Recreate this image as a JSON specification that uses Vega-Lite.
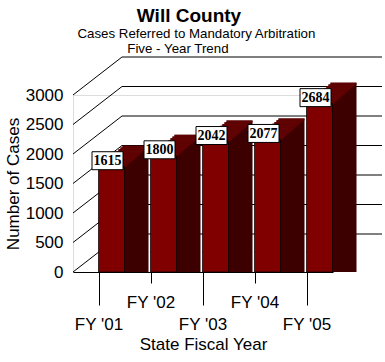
{
  "$schema": "https://vega.github.io/schema/vega-lite/v6.json",
  "width": 260,
  "height": 177,
  "autosize": "none",
  "padding": {"left": 73, "top": 95, "right": 52, "bottom": 90},
  "background": "white",
  "title": {
    "text": "Will County",
    "subtitle": ["\u200b\u00a0\u00a0\u00a0\u00a0Cases Referred to Mandatory Arbitration", "Five - Year Trend\u00a0\u00a0\u00a0\u00a0\u00a0\u00a0\u200b"],
    "font": "Liberation Sans",
    "fontSize": 19,
    "fontWeight": "bold",
    "color": "black",
    "subtitleFont": "Liberation Sans",
    "subtitleFontSize": 13.3,
    "subtitleColor": "black",
    "subtitlePadding": 1,
    "subtitleLineHeight": 15,
    "anchor": "middle",
    "frame": "group",
    "offset": 1,
    "dx": -14
  },
  "datasets": {
    "bars": [
      {"year": "FY '01", "cases": 1615},
      {"year": "FY '02", "cases": 1800},
      {"year": "FY '03", "cases": 2042},
      {"year": "FY '04", "cases": 2077},
      {"year": "FY '05", "cases": 2684}
    ],
    "grid": [
      {"g": 0}, {"g": 500}, {"g": 1000}, {"g": 1500}, {"g": 2000}, {"g": 2500}, {"g": 3000}
    ]
  },
  "data": {"name": "bars"},
  "encoding": {
    "x": {
      "field": "year",
      "type": "nominal",
      "scale": {"paddingInner": 0.5, "paddingOuter": 0.25},
      "axis": {
        "title": "State Fiscal Year",
        "labelAngle": 0,
        "labelOverlap": false,
        "domainColor": "black",
        "domainWidth": 1,
        "tickColor": "black",
        "tickWidth": 1,
        "tickSize": {"condition": {"test": "datum.value === \"FY '02\" || datum.value === \"FY '04\"", "value": 11}, "value": 33},
        "labelPadding": 11,
        "labelFont": "Liberation Sans",
        "labelFontSize": 17,
        "labelColor": "black",
        "titleFont": "Liberation Sans",
        "titleFontSize": 17,
        "titleFontWeight": "normal",
        "titleColor": "black",
        "titlePadding": 4
      }
    },
    "y": {
      "field": "cases",
      "type": "quantitative",
      "stack": null,
      "scale": {"domain": [0, 3000], "nice": false},
      "axis": {
        "title": "Number of Cases",
        "values": [0, 500, 1000, 1500, 2000, 2500, 3000],
        "format": "d",
        "domain": false,
        "ticks": false,
        "grid": false,
        "labelFont": "Liberation Sans",
        "labelFontSize": 17,
        "labelColor": "black",
        "labelPadding": 10,
        "titleFont": "Liberation Sans",
        "titleFontSize": 17,
        "titleFontWeight": "normal",
        "titleColor": "black",
        "titlePadding": 3
      }
    }
  },
  "layer": [
    {
      "data": {"name": "grid"},
      "mark": {"type": "rule", "color": "black", "strokeWidth": 1, "xOffset": 23, "x2Offset": 75, "yOffset": -38, "y2Offset": -38},
      "encoding": {
        "x": {"datum": "FY '01", "type": "nominal"},
        "x2": {"datum": "FY '05"},
        "y": {"field": "g", "type": "quantitative", "title": "Number of Cases"},
        "y2": {"field": "g"}
      }
    },
    {
      "data": {"name": "grid"},
      "mark": {"type": "rule", "color": "black", "strokeWidth": 1, "xOffset": -26, "x2Offset": 23, "yOffset": 0, "y2Offset": -38},
      "encoding": {
        "x": {"datum": "FY '01", "type": "nominal"},
        "x2": {"datum": "FY '01"},
        "y": {"field": "g", "type": "quantitative", "title": "Number of Cases"},
        "y2": {"field": "g"}
      }
    },
    {
      "data": {"values": [{}]},
      "mark": {"type": "rule", "color": "black", "strokeWidth": 1, "xOffset": 23, "yOffset": -38, "y2Offset": -38},
      "encoding": {
        "x": {"datum": "FY '01", "type": "nominal"},
        "y": {"datum": 0, "type": "quantitative"},
        "y2": {"datum": 3000}
      }
    },
    {
      "data": {"values": [{}]},
      "mark": {"type": "rule", "color": "black", "strokeWidth": 1, "xOffset": 75, "yOffset": -38, "y2Offset": -38},
      "encoding": {
        "x": {"datum": "FY '05", "type": "nominal"},
        "y": {"datum": 0, "type": "quantitative"},
        "y2": {"datum": 3000}
      }
    },
    {
      "data": {"values": [{}]},
      "mark": {"type": "rule", "color": "black", "strokeWidth": 1, "xOffset": 26, "x2Offset": 75, "yOffset": 0, "y2Offset": -38},
      "encoding": {
        "x": {"datum": "FY '05", "type": "nominal"},
        "x2": {"datum": "FY '05"},
        "y": {"datum": 0, "type": "quantitative"},
        "y2": {"datum": 0}
      }
    },
    {
      "transform": [{"filter": "datum.year !== \"FY '05\""}],
      "mark": {"type": "rule", "color": "black", "strokeWidth": 1, "strokeDash": [1, 3], "xOffset": 26, "x2Offset": 75, "yOffset": 0, "y2Offset": -38},
      "encoding": {
        "x": {"field": "year", "type": "nominal"},
        "x2": {"field": "year"},
        "y": {"datum": 0, "type": "quantitative"},
        "y2": {"datum": 0}
      }
    },
    {"mark": {"type": "bar", "color": "#3c0000", "xOffset": 36.5, "yOffset": -31, "y2Offset": -31}},
    {"mark": {"type": "bar", "color": "#3c0000", "xOffset": 34.5, "yOffset": -29.25, "y2Offset": -29.25}},
    {"mark": {"type": "bar", "color": "#3c0000", "xOffset": 32.5, "yOffset": -27.5, "y2Offset": -27.5}},
    {"mark": {"type": "bar", "color": "#3c0000", "xOffset": 30.5, "yOffset": -25.75, "y2Offset": -25.75}},
    {"mark": {"type": "bar", "color": "#3c0000", "xOffset": 28.5, "yOffset": -24, "y2Offset": -24}},
    {"mark": {"type": "bar", "color": "#3c0000", "xOffset": 26.5, "yOffset": -22.25, "y2Offset": -22.25}},
    {"mark": {"type": "bar", "color": "#3c0000", "xOffset": 24.5, "yOffset": -20.5, "y2Offset": -20.5}},
    {"mark": {"type": "bar", "color": "#3c0000", "xOffset": 22.5, "yOffset": -18.75, "y2Offset": -18.75}},
    {"mark": {"type": "bar", "color": "#3c0000", "xOffset": 20.5, "yOffset": -17, "y2Offset": -17}},
    {"mark": {"type": "bar", "color": "#3c0000", "xOffset": 18.5, "yOffset": -15.25, "y2Offset": -15.25}},
    {"mark": {"type": "bar", "color": "#3c0000", "xOffset": 16.5, "yOffset": -13.5, "y2Offset": -13.5}},
    {"mark": {"type": "bar", "color": "#3c0000", "xOffset": 14.5, "yOffset": -11.75, "y2Offset": -11.75}},
    {"mark": {"type": "bar", "color": "#620303", "xOffset": 36.5, "yOffset": -31, "y2Offset": -29}, "encoding": {"y2": {"field": "cases"}}},
    {"mark": {"type": "bar", "color": "#620303", "xOffset": 34.5, "yOffset": -29.25, "y2Offset": -27.25}, "encoding": {"y2": {"field": "cases"}}},
    {"mark": {"type": "bar", "color": "#620303", "xOffset": 32.5, "yOffset": -27.5, "y2Offset": -25.5}, "encoding": {"y2": {"field": "cases"}}},
    {"mark": {"type": "bar", "color": "#620303", "xOffset": 30.5, "yOffset": -25.75, "y2Offset": -23.75}, "encoding": {"y2": {"field": "cases"}}},
    {"mark": {"type": "bar", "color": "#620303", "xOffset": 28.5, "yOffset": -24, "y2Offset": -22}, "encoding": {"y2": {"field": "cases"}}},
    {"mark": {"type": "bar", "color": "#620303", "xOffset": 26.5, "yOffset": -22.25, "y2Offset": -20.25}, "encoding": {"y2": {"field": "cases"}}},
    {"mark": {"type": "bar", "color": "#620303", "xOffset": 24.5, "yOffset": -20.5, "y2Offset": -18.5}, "encoding": {"y2": {"field": "cases"}}},
    {"mark": {"type": "bar", "color": "#620303", "xOffset": 22.5, "yOffset": -18.75, "y2Offset": -16.75}, "encoding": {"y2": {"field": "cases"}}},
    {"mark": {"type": "bar", "color": "#620303", "xOffset": 20.5, "yOffset": -17, "y2Offset": -15}, "encoding": {"y2": {"field": "cases"}}},
    {"mark": {"type": "bar", "color": "#620303", "xOffset": 18.5, "yOffset": -15.25, "y2Offset": -13.25}, "encoding": {"y2": {"field": "cases"}}},
    {"mark": {"type": "bar", "color": "#620303", "xOffset": 16.5, "yOffset": -13.5, "y2Offset": -11.5}, "encoding": {"y2": {"field": "cases"}}},
    {"mark": {"type": "bar", "color": "#620303", "xOffset": 14.5, "yOffset": -11.75, "y2Offset": -9.75}, "encoding": {"y2": {"field": "cases"}}},
    {"mark": {"type": "bar", "color": "#800000", "stroke": "black", "strokeWidth": 0.7, "xOffset": 12.5, "yOffset": -10, "y2Offset": -10}},
    {
      "mark": {"type": "point", "shape": "M-1,-0.58H1V0.58H-1Z", "size": 961, "filled": true, "fill": "white", "stroke": "black", "strokeWidth": 1, "opacity": 1, "xOffset": 8.5, "yOffset": -16}
    },
    {
      "mark": {"type": "text", "font": "Liberation Serif", "fontWeight": "bold", "fontSize": 14, "color": "black", "align": "center", "baseline": "middle", "xOffset": 8.5, "yOffset": -15.5},
      "encoding": {"text": {"field": "cases", "type": "quantitative"}}
    }
  ]
}
